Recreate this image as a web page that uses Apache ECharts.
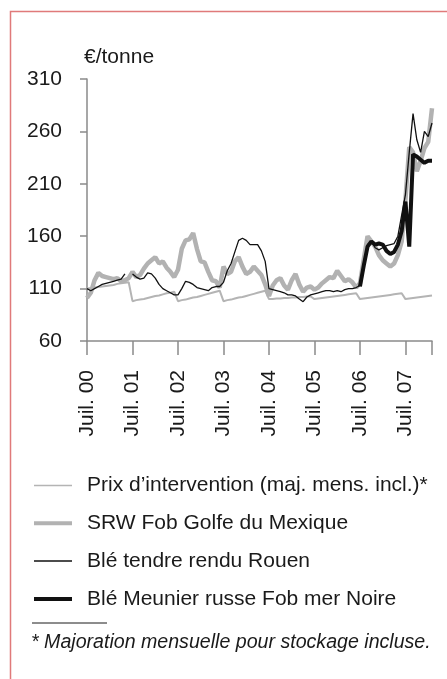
<!DOCTYPE html>
<html>
<head>
<meta charset="utf-8">
<style>
html,body{margin:0;padding:0;background:#fff;}
#chart{width:447px;height:679px;}
</style>
<script src="https://cdn.jsdelivr.net/npm/echarts@6/dist/echarts.min.js"></script>
</head>
<body>
<div id="chart"></div>
<script>
// Months from Juil. 2000 to Févr. 2008
const monthNames = ['Juil.','Août','Sept.','Oct.','Nov.','Déc.','Janv.','Févr.','Mars','Avr.','Mai','Juin'];
const seasons = ['00','01','02','03','04','05','06','07'];
const categories = [];
seasons.forEach((y) => {
  monthNames.forEach((m, j) => {
    const yy = j < 6 ? y : String(Number(y) + 1).padStart(2, '0');
    categories.push(m + ' ' + yy);
  });
});
categories.length = 92;

const yTicks = { min: 60, max: 310, interval: 50 };

const intervention = [
  110,110.5,111,111.5,112,112.5,113,113.5,114.5,115,115.5,116,
  98,99,99.5,100,101,102,103,103.5,104.5,105.5,106,107,
  98,99,99.5,100.5,101.5,102,103,104,105,106,107,108,
  98,99,99.5,100.5,101.5,102,103,104,105,106,107,108,
  100,100,100.5,100.5,101,101,101.5,101.5,102,102,102.5,102.5,
  100,100.5,101,101.5,102,102.5,103,103.5,104,104.5,105,105.5,
  100,100.5,101,101.5,102,102.5,103,103.5,104,104.5,105,105.5,
  100,100.5,101,101.5,102,102.5,103,103.5
];

const srw = [
  101,106,118,125,122,121,120,119,120,117,118,120,
  126,121,123,129,134,137,140,134,136,130,126,121,
  128,148,156,157,163,148,136,135,126,118,117,111,
  131,124,126,136,140,131,124,126,131,127,123,114,
  103,113,118,120,113,109,118,124,114,107,111,112,
  109,111,115,118,121,120,127,122,117,119,116,111,
  115,138,160,155,150,142,137,134,131,134,142,155,
  195,245,240,222,232,244,250,282
];

const rouen = [
  110,108,110,112,114,115,116,117,118,119,124,null,
  124,121,119,120,125,124,120,114,110,108,106,104,
  104,110,117,116,114,111,110,109,108,111,112,112,
  116,127,134,145,156,158,156,152,152,152,146,136,
  110,109,108,107,106,104,104,103,100,97.5,102,104,
  105,106,107,108,108,107,108,107,109,110,110,111,
  113,135,152,155,149,147,149,151,152,153,160,180,
  200,240,277,252,240,260,255,268
];

const merNoire = [
  null,null,null,null,null,null,null,null,null,null,null,null,
  null,null,null,null,null,null,null,null,null,null,null,null,
  null,null,null,null,null,null,null,null,null,null,null,null,
  null,null,null,null,null,null,null,null,null,null,null,null,
  null,null,null,null,null,null,null,null,null,null,null,null,
  null,null,null,null,null,null,null,null,null,null,null,null,
  112,132,150,155,152,153,152,146,143,145,152,165,
  193,150,238,236,233,230,232,232
];

const seriesNames = [
  'Prix d’intervention (maj. mens. incl.)*',
  'SRW Fob Golfe du Mexique',
  'Blé tendre rendu Rouen',
  'Blé Meunier russe Fob mer Noire'
];

const FONT = '"Liberation Sans", Arial, sans-serif';
const chart = echarts.init(document.getElementById('chart'), null, { renderer: 'canvas' });
const last = categories.length - 1;
const styles = [
  { color: '#b4b4b4', width: 2 },
  { color: '#b2b2b2', width: 4.5 },
  { color: '#111111', width: 1.3 },
  { color: '#111111', width: 4 }
];
const legendWidths = [1.5, 4, 1.5, 4];

chart.setOption({
  animation: false,
  backgroundColor: '#fff',
  textStyle: { fontFamily: FONT },
  grid: { left: 87, right: 15, top: 79, bottom: 338, containLabel: false },
  title: {
    text: '€/tonne', left: 84, top: 47, padding: 0,
    textStyle: { fontFamily: FONT, fontSize: 21, fontWeight: 'normal', color: '#1a1a1a' }
  },
  legend: {
    orient: 'vertical', left: 32, top: 475, padding: 0,
    itemWidth: 38, itemHeight: 14, itemGap: 16.8,
    itemStyle: { opacity: 0 },
    data: seriesNames.map((n, k) => ({
      name: n,
      lineStyle: { color: styles[k].color, width: legendWidths[k], opacity: 1 }
    })),
    textStyle: { fontFamily: FONT, fontSize: 21, color: '#1a1a1a', padding: [0, 0, 0, 10] }
  },
  xAxis: {
    type: 'category', boundaryGap: false, data: categories,
    axisLine: { lineStyle: { color: '#8a8a8a', width: 1.5 } },
    axisTick: { length: 14, lineStyle: { color: '#8a8a8a', width: 1.5 },
      interval: (i) => i % 12 === 0 || i === last },
    axisLabel: { rotate: 90, margin: 29, fontSize: 21, color: '#1a1a1a', fontFamily: FONT,
      interval: (i) => i % 12 === 0 },
    splitLine: { show: false }
  },
  yAxis: {
    type: 'value', min: yTicks.min, max: yTicks.max, interval: yTicks.interval,
    axisLine: { show: true, lineStyle: { color: '#8a8a8a', width: 1.5 } },
    axisTick: { show: true, length: 7, lineStyle: { color: '#8a8a8a', width: 1.5 } },
    axisLabel: { margin: 25, fontSize: 21, color: '#1a1a1a', fontFamily: FONT },
    splitLine: { show: false }
  },
  series: [
    { name: seriesNames[0], type: 'line', data: intervention, symbol: 'none',
      lineStyle: styles[0], itemStyle: { color: styles[0].color }, z: 2 },
    { name: seriesNames[1], type: 'line', data: srw, symbol: 'none',
      lineStyle: styles[1], itemStyle: { color: styles[1].color }, z: 3 },
    { name: seriesNames[2], type: 'line', data: rouen, symbol: 'none', connectNulls: false,
      lineStyle: styles[2], itemStyle: { color: styles[2].color }, z: 5 },
    { name: seriesNames[3], type: 'line', data: merNoire, symbol: 'none',
      lineStyle: styles[3], itemStyle: { color: styles[3].color }, z: 4 }
  ],
  graphic: [
    { type: 'rect', shape: { x: 10.5, y: 11.5, width: 600, height: 800 }, silent: true,
      style: { fill: 'none', stroke: '#e07a7a', lineWidth: 1.5 } },
    { type: 'line', shape: { x1: 32, y1: 623, x2: 107, y2: 623 }, silent: true,
      style: { stroke: '#1a1a1a', lineWidth: 1 } },
    { type: 'text', left: 31, top: 633, silent: true,
      style: { text: '* Majoration mensuelle pour stockage incluse.', fontFamily: FONT,
        fontSize: 19.6, fontStyle: 'italic', fill: '#1a1a1a' } }
  ]
});
</script>
</body>
</html>
